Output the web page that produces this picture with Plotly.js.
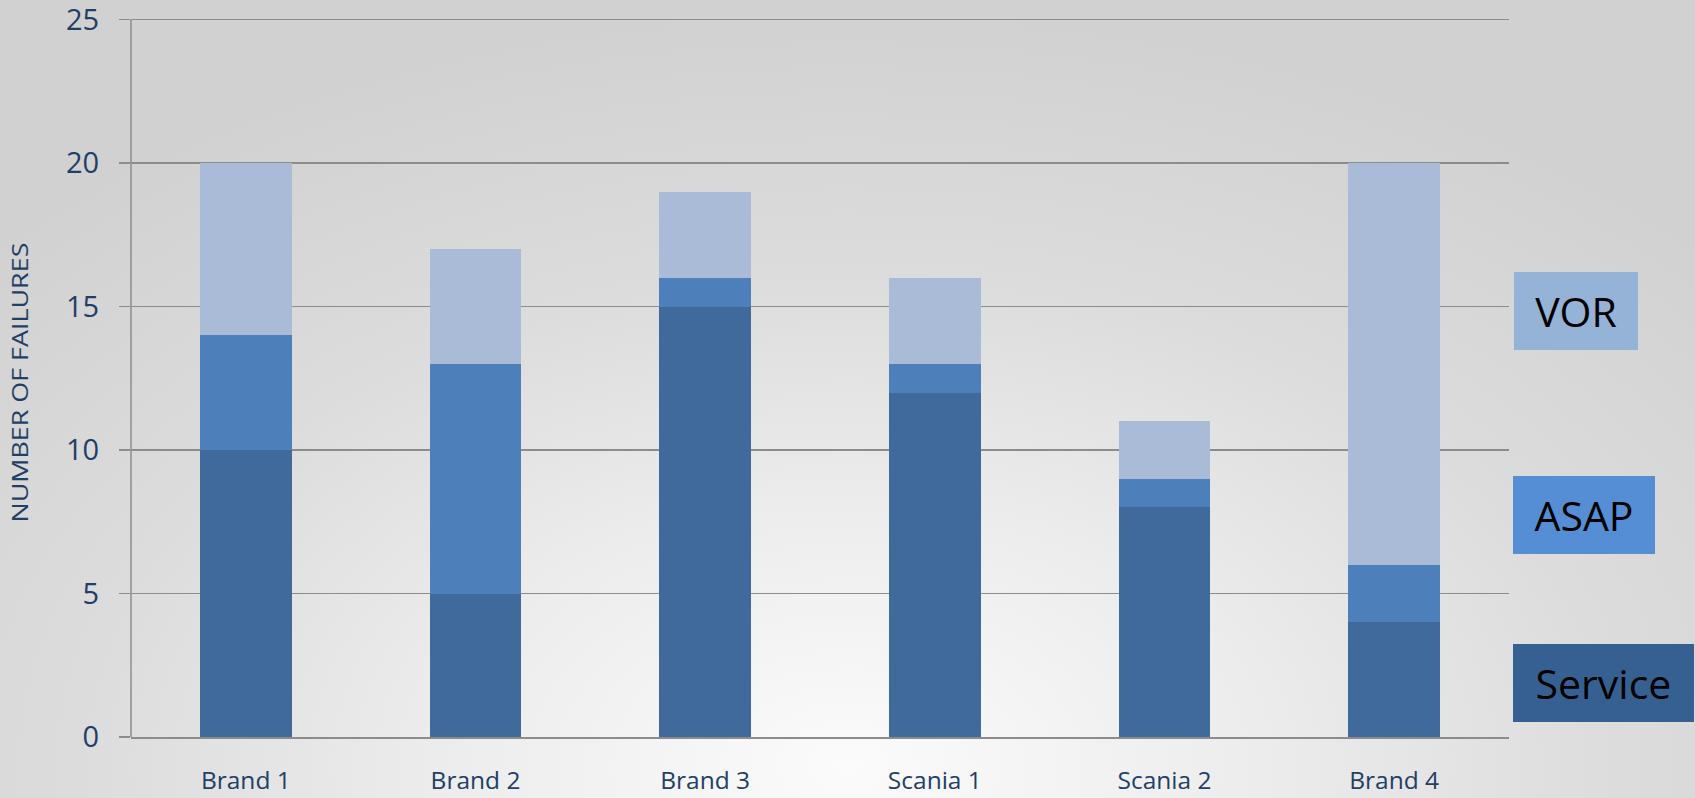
<!DOCTYPE html>
<html>
<head>
<meta charset="utf-8">
<script src="https://cdn.plot.ly/plotly-3.0.1.min.js"></script>
<style>
  html, body { margin: 0; padding: 0; }
  body {
    width: 1695px; height: 798px; overflow: hidden;
    background: radial-gradient(ellipse 70% 95% at 50% 96%, #fbfbfb 0%, #ececec 35%, #dcdcdc 65%, #d1d1d1 100%);
  }
  #chart { width: 1695px; height: 798px; }
</style>
</head>
<body>
<div id="chart"></div>
<script>
const categories = ["Brand 1", "Brand 2", "Brand 3", "Scania 1", "Scania 2", "Brand 4"];
const service = [10, 5, 15, 12, 8, 4];
const asap = [4, 8, 1, 1, 1, 2];
const vor = [6, 4, 3, 3, 2, 14];
const yTicks = [0, 5, 10, 15, 20, 25];
const legendNames = ["VOR", "ASAP", "Service"];
const yTitle = "NUMBER OF FAILURES";

const barColors = { service: "#3f6a9b", asap: "#4d80bb", vor: "#aabbd8" };
const boxColors = ["#95b3d7", "#558ed5", "#376092"];

const traces = [
  { type: "bar", name: "Service", x: categories, y: service, marker: { color: barColors.service }, hoverinfo: "skip" },
  { type: "bar", name: "ASAP", x: categories, y: asap, marker: { color: barColors.asap }, hoverinfo: "skip" },
  { type: "bar", name: "VOR", x: categories, y: vor, marker: { color: barColors.vor }, hoverinfo: "skip" }
];

const W = 1695, H = 798;
const L = 131, R = 186, T = 11.4, B = 61.3;
const pw = W - L - R, ph = H - T - B;
function px2x(p) { return (p - L) / pw; }
function py2y(p) { return (H - B - p) / ph; }

const boxes = [
  { left: 1514, top: 272, w: 124, h: 78 },
  { left: 1513, top: 476, w: 142, h: 78 },
  { left: 1513, top: 644, w: 181, h: 78 }
];

const annotations = legendNames.map((n, i) => ({
  xref: "paper", yref: "paper",
  x: px2x(boxes[i].left), y: py2y(boxes[i].top),
  xanchor: "left", yanchor: "top",
  text: n, showarrow: false,
  width: boxes[i].w, height: boxes[i].h,
  bgcolor: boxColors[i], borderpad: 0, borderwidth: 0,
  align: "center", valign: "middle",
  font: { family: "Open Sans, sans-serif", size: 41, color: "#000000" }
}));

annotations.push({
  xref: "paper", yref: "paper",
  x: px2x(20), y: py2y(383),
  xanchor: "center", yanchor: "middle",
  text: yTitle, showarrow: false, textangle: -90,
  font: { family: "Open Sans, sans-serif", size: 21, color: "#1f3f66" }
});

const layout = {
  width: W, height: H,
  margin: { l: L, r: R, t: T, b: B },
  paper_bgcolor: "rgba(0,0,0,0)",
  plot_bgcolor: "rgba(0,0,0,0)",
  barmode: "stack",
  bargap: 0.6,
  showlegend: false,
  xaxis: {
    type: "category",
    showgrid: false,
    showline: true, linecolor: "#8c8c8c", linewidth: 1.5,
    ticks: "", ticklabelstandoff: 21,
    tickfont: { family: "Open Sans, sans-serif", size: 24.5, color: "#1f3f66" },
    fixedrange: true
  },
  yaxis: {
    range: [0, 25.3],
    tickmode: "array",
    tickvals: yTicks, ticktext: yTicks.map(String),
    ticklabeloverflow: "allow",
    showgrid: true, gridcolor: "#8c8c8c", gridwidth: 1.5,
    showline: false,
    zeroline: false,
    ticks: "outside", ticklen: 11, tickcolor: "#8c8c8c", tickwidth: 1.5,
    ticklabelstandoff: 14,
    tickfont: { family: "Open Sans, sans-serif", size: 29, color: "#1f3f66" },
    fixedrange: true
  },
  shapes: [{
    type: "line", xref: "paper", yref: "y",
    x0: 0, x1: 0, y0: yTicks[0], y1: yTicks[yTicks.length - 1],
    line: { color: "#8c8c8c", width: 1.5 }
  }],
  annotations: annotations
};

Plotly.newPlot("chart", traces, layout, { staticPlot: true, displayModeBar: false }).then(function (gd) {
  const texts = gd.querySelectorAll(".annotation-text");
  texts.forEach(function (t) {
    if (t.textContent === yTitle) {
      t.setAttribute("textLength", "280");
      t.setAttribute("lengthAdjust", "spacingAndGlyphs");
    }
  });
});
</script>
</body>
</html>
